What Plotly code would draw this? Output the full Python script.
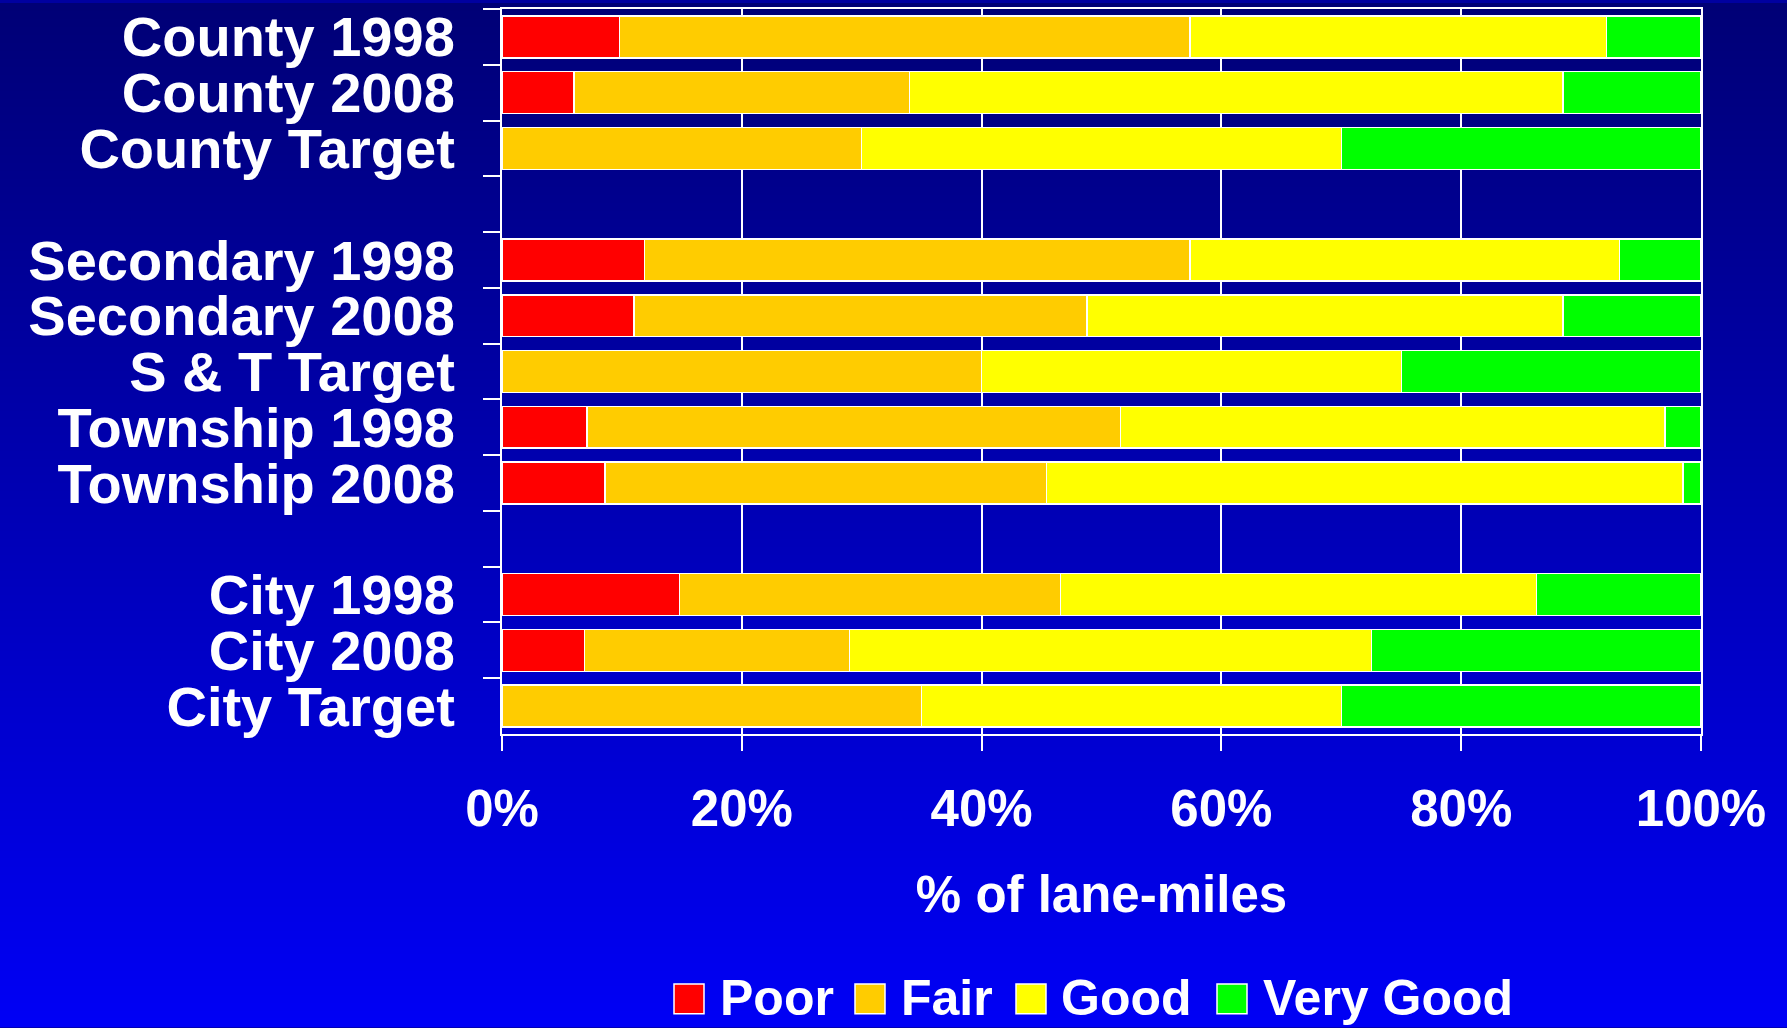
import plotly.graph_objects as go

# ---------------- data ----------------
categories = ["County 1998", "County 2008", "County Target", " ",
              "Secondary 1998", "Secondary 2008", "S & T Target",
              "Township 1998", "Township 2008", "  ",
              "City 1998", "City 2008", "City Target"]

poor      = [9.8, 6.0, 0,    None, 11.9, 11.0, 0,    7.1, 8.6, None, 14.8, 6.9, 0]
fair      = [47.6, 28.0, 30, None, 45.5, 37.8, 40,   44.5, 36.8, None, 31.8, 22.1, 35]
good      = [34.7, 54.5, 40, None, 35.8, 39.7, 35,   45.4, 53.1, None, 39.7, 43.5, 35]
very_good = [7.9, 11.5, 30,  None, 6.8, 11.5, 25,    3.0, 1.5, None, 13.7, 27.5, 30]

series_names = ["Poor", "Fair", "Good", "Very Good"]
series_values = [poor, fair, good, very_good]
series_colors = ["#FF0000", "#FFCC00", "#FFFF00", "#00FF00"]

x_tickvals = [0, 20, 40, 60, 80, 100]
x_ticktext = ["0%", "20%", "40%", "60%", "80%", "100%"]
x_title = "% of lane-miles"

# ---------------- geometry ----------------
W, H = 1787, 1028
PL, PR, PT, PB = 502, 1701, 6, 734
FONT = "Arial, Liberation Sans, sans-serif"


def px2paper_x(px):
    return (px - PL) / (PR - PL)


def px2paper_y(py):
    return (PB - py) / (PB - PT)


fig = go.Figure()

for name, vals, col in zip(series_names, series_values, series_colors):
    fig.add_trace(go.Bar(
        y=categories, x=vals, name=name, orientation="h",
        marker=dict(color=col, line=dict(color="white", width=1.5)),
        showlegend=False,
    ))

# gradient background (stripes)
shapes = []
n = 128
top_b, bot_b = 118, 245
for i in range(n):
    y0 = i * H / n
    y1 = (i + 1) * H / n + 0.5
    b = round(top_b + (bot_b - top_b) * (i + 0.5) / n)
    shapes.append(dict(
        type="rect", xref="paper", yref="paper", layer="below",
        x0=px2paper_x(0), x1=px2paper_x(W),
        y0=px2paper_y(y1), y1=px2paper_y(y0),
        line=dict(width=0), fillcolor=f"rgb(0,0,{b})",
    ))

# custom legend
annotations = []
legend_sq_x = [674, 855, 1016, 1217]
legend_txt_x = [718, 899, 1059, 1261]
leg_cy = 1000
for name, col, sx, tx in zip(series_names, series_colors, legend_sq_x, legend_txt_x):
    shapes.append(dict(
        type="rect", xref="paper", yref="paper", layer="above",
        x0=px2paper_x(sx), x1=px2paper_x(sx + 30),
        y0=px2paper_y(leg_cy + 15), y1=px2paper_y(leg_cy - 15),
        line=dict(color="white", width=1.5), fillcolor=col,
    ))
    annotations.append(dict(
        xref="paper", yref="paper", x=px2paper_x(tx), y=px2paper_y(leg_cy - 1),
        xanchor="left", yanchor="middle", showarrow=False, text=name,
        font=dict(family=FONT, size=50, color="white", weight="bold"),
    ))

fig.update_layout(
    width=W, height=H,
    margin=dict(l=PL, r=W - PR, t=PT, b=H - PB, pad=0),
    barmode="stack", bargap=0.25,
    paper_bgcolor="#0000A0", plot_bgcolor="rgba(0,0,0,0)",
    shapes=shapes, annotations=annotations,
    showlegend=False,
    font=dict(family=FONT, color="white"),
)

fig.update_xaxes(
    range=[0, 100], tickvals=x_tickvals, ticktext=x_ticktext,
    showgrid=True, gridcolor="white", gridwidth=2,
    showline=True, linecolor="white", linewidth=2, mirror=True,
    ticks="outside", ticklen=15, tickwidth=1.5, tickcolor="white",
    tickfont=dict(family=FONT, size=51, color="white", weight="bold"),
    ticklabelstandoff=14,
    zeroline=False,
    title=dict(text=x_title, standoff=40,
               font=dict(family=FONT, size=51, color="white", weight="bold")),
)

fig.update_yaxes(
    type="category", categoryorder="array", categoryarray=categories,
    range=[len(categories) - 0.5, -0.5],
    tickmode="linear", tick0=0, dtick=1,
    tickson="boundaries",
    showgrid=False,
    showline=True, linecolor="white", linewidth=2, mirror=True,
    ticks="outside", ticklen=17, tickwidth=2, tickcolor="white",
    tickfont=dict(family=FONT, size=56, color="white", weight="bold"),
    ticklabelstandoff=34,
)

fig.write_html(
    "out.html",
    config={"displayModeBar": False},
    post_script="document.body.style.margin='0';document.body.style.overflow='hidden';",
)
